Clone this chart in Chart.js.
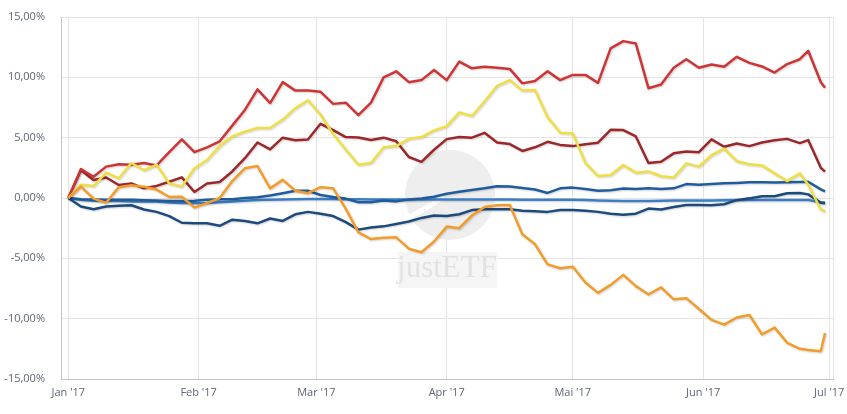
<!doctype html>
<html lang="de">
<head>
<meta charset="utf-8">
<title>Wertentwicklung 2017</title>
<script src="https://cdn.jsdelivr.net/npm/chart.js@4.4.0/dist/chart.umd.min.js"></script>
<style>
  html, body { margin: 0; padding: 0; background: #fff; }
  #wrap { width: 847px; height: 414px; position: relative; }
</style>
</head>
<body>
<div id="wrap"><canvas id="perfChart"></canvas></div>
<script>
// days since 1 Jan 2017 for each sample
const days = [0, 3, 6, 9, 12, 15, 18, 21, 24, 27, 30, 33, 36, 39, 42, 45, 48, 51, 54, 57,
  60, 63, 66, 69, 72, 75, 78, 81, 84, 87, 90, 93, 96, 99, 102, 105, 108, 111, 114, 117,
  120, 123, 126, 129, 132, 135, 138, 141, 144, 147, 150, 153, 156, 159, 162, 165, 168, 171, 174, 176,
  179, 180];

// performance in %
const red = [0, 2.4, 1.76, 2.6, 2.79, 2.75, 2.9, 2.7, 3.8, 4.85, 3.8, 4.2, 4.7, 6.0, 7.3, 9.0, 7.86, 9.6, 8.9, 8.9,
  8.8, 7.8, 7.9, 6.87, 7.9, 10.0, 10.5, 9.6, 9.77, 10.6, 9.77, 11.3, 10.75, 10.87, 10.8, 10.7, 9.5, 9.7, 10.5, 9.77,
  10.2, 10.2, 9.54, 12.4, 13.0, 12.8, 9.1, 9.4, 10.8, 11.5, 10.8, 11.07, 10.87, 11.7, 11.2, 10.9, 10.4, 11.1, 11.5, 12.2,
  9.6, 9.13];
const darkRed = [0, 2.3, 1.5, 1.7, 1.08, 1.2, 0.8, 1.0, 1.35, 1.71, 0.5, 1.2, 1.33, 2.2, 3.3, 4.6, 4.03, 5.0, 4.78, 4.85,
  6.15, 5.63, 5.05, 5.02, 4.8, 5.0, 4.7, 3.4, 3.0, 4.0, 4.88, 5.05, 5.0, 5.4, 4.6, 4.47, 3.9, 4.2, 4.66, 4.4,
  4.3, 4.45, 4.58, 5.65, 5.63, 5.1, 2.9, 3.0, 3.7, 3.85, 3.8, 4.86, 4.25, 4.52, 4.3, 4.6, 4.78, 4.9, 4.55, 4.8,
  2.5, 2.18];
const yellow = [0, 1.1, 0.99, 2.1, 1.63, 2.9, 2.3, 2.75, 1.2, 0.94, 2.46, 3.15, 4.3, 5.1, 5.5, 5.8, 5.8, 6.5, 7.45, 8.1,
  6.9, 5.3, 4.0, 2.75, 2.9, 4.2, 4.3, 4.9, 5.05, 5.6, 5.95, 7.1, 6.8, 8.0, 9.3, 9.77, 8.9, 8.95, 6.7, 5.4,
  5.35, 2.9, 1.82, 1.9, 2.73, 2.1, 2.2, 1.8, 1.7, 2.87, 2.6, 3.56, 4.1, 3.05, 2.8, 2.7, 2.04, 1.4, 2.04, 1.1,
  -0.95, -1.13];
const orange = [0, 0.95, -0.05, -0.4, 0.9, 1.05, 0.94, 0.7, 0.08, 0.1, -0.8, -0.42, 0.0, 1.4, 2.46, 2.65, 0.8, 1.5, 0.6, 0.4,
  0.9, 0.8, -0.9, -2.85, -3.4, -3.3, -3.26, -4.2, -4.5, -3.6, -2.37, -2.5, -1.45, -0.75, -0.6, -0.58, -3.0, -3.83, -5.5, -5.82,
  -5.7, -7.0, -7.86, -7.2, -6.37, -7.3, -8.0, -7.4, -8.4, -8.3, -9.2, -10.1, -10.5, -9.9, -9.7, -11.3, -10.74, -12.0, -12.5, -12.6,
  -12.7, -11.2];
const navy = [0, -0.7, -0.94, -0.7, -0.65, -0.6, -0.95, -1.15, -1.5, -2.05, -2.1, -2.1, -2.3, -1.8, -1.9, -2.1, -1.7, -1.9, -1.35, -1.15,
  -1.3, -1.5, -2.0, -2.62, -2.45, -2.35, -2.15, -1.95, -1.65, -1.45, -1.5, -1.35, -1.0, -0.94, -0.94, -0.94, -1.05, -1.1, -1.15, -1.0,
  -1.0, -1.05, -1.15, -1.3, -1.38, -1.3, -0.88, -0.95, -0.75, -0.58, -0.58, -0.6, -0.52, -0.18, -0.03, 0.15, 0.15, 0.4, 0.42, 0.3,
  -0.39, -0.44];
const blue = [0, -0.1, -0.12, -0.15, -0.15, -0.15, -0.18, -0.2, -0.25, -0.25, -0.22, -0.15, -0.1, -0.1, 0.0, 0.06, 0.2, 0.4, 0.6, 0.6,
  0.25, 0.08, -0.05, -0.35, -0.36, -0.2, -0.28, -0.12, -0.05, 0.1, 0.35, 0.52, 0.66, 0.8, 0.98, 0.96, 0.82, 0.7, 0.42, 0.8,
  0.86, 0.75, 0.6, 0.65, 0.78, 0.75, 0.8, 0.75, 0.8, 1.15, 1.1, 1.16, 1.22, 1.25, 1.3, 1.3, 1.28, 1.3, 1.33, 1.35,
  0.72, 0.55];
const lightBlue = [0, -0.15, -0.22, -0.25, -0.25, -0.28, -0.28, -0.3, -0.38, -0.42, -0.44, -0.42, -0.35, -0.28, -0.22, -0.17, -0.15, -0.12, -0.1, -0.08,
  -0.08, -0.08, -0.1, -0.1, -0.12, -0.12, -0.12, -0.12, -0.12, -0.12, -0.12, -0.12, -0.12, -0.12, -0.12, -0.12, -0.14, -0.15, -0.15, -0.15,
  -0.15, -0.17, -0.2, -0.22, -0.25, -0.25, -0.25, -0.22, -0.2, -0.2, -0.2, -0.2, -0.18, -0.17, -0.17, -0.17, -0.17, -0.17, -0.17, -0.17,
  -0.36, -0.4];

// x axis: first day of each month
const monthDays = [0, 31, 59, 90, 120, 151, 181];
const monthLabels = ["Jan '17", "Feb '17", "Mar '17", "Apr '17", "Mai '17", "Jun '17", "Jul '17"];

function pts(values) {
  return values.map((v, i) => ({ x: days[i], y: v }));
}

function line(values, color) {
  return {
    data: pts(values),
    borderColor: color,
    borderWidth: 2.5,
    borderJoinStyle: 'round',
    pointRadius: 0,
    tension: 0,
    fill: false
  };
}

// faint logo behind the lines
const watermark = {
  id: 'watermark',
  beforeDatasetsDraw(chart) {
    const { ctx, chartArea: a } = chart;
    const cx = (a.left + a.right) / 2 + 3;
    const cy = (a.top + a.bottom) / 2 - 3;
    ctx.save();
    ctx.fillStyle = '#eeeeee';
    ctx.beginPath();
    ctx.arc(cx, cy, 45, 0, Math.PI * 2);
    ctx.fill();
    ctx.strokeStyle = '#ffffff';
    ctx.lineWidth = 5;
    ctx.lineCap = 'round';
    ctx.beginPath();
    ctx.moveTo(cx - 50, cy + 27);
    ctx.quadraticCurveTo(cx - 20, cy + 12, cx - 8, cy + 2);
    ctx.stroke();
    ctx.fillStyle = '#f5f5f5';
    ctx.fillRect(cx - 52, cy + 57, 99, 36);
    ctx.fillStyle = '#e2e2e2';
    ctx.font = '31px "Liberation Serif", serif';
    ctx.textAlign = 'center';
    ctx.textBaseline = 'middle';
    ctx.fillText('justETF', cx - 3, cy + 74);
    ctx.restore();
  }
};

// soft shadow under each series
const lineShadow = {
  id: 'lineShadow',
  beforeDatasetDraw(chart) {
    const c = chart.ctx;
    c.save();
    c.shadowColor = 'rgba(0,0,0,0.18)';
    c.shadowBlur = 2;
    c.shadowOffsetX = 1;
    c.shadowOffsetY = 1;
  },
  afterDatasetDraw(chart) {
    chart.ctx.restore();
  }
};

Chart.defaults.font.family = "'Open Sans', sans-serif";
Chart.defaults.font.size = 11;
Chart.defaults.color = '#5e6673';

new Chart(document.getElementById('perfChart'), {
  type: 'line',
  data: {
    datasets: [
      line(orange, '#f39c2b'),
      line(yellow, '#efdf45'),
      line(red, '#cf3434'),
      line(darkRed, '#9c2729'),
      line(navy, '#1c4a7c'),
      line(blue, '#1f5c9e'),
      line(lightBlue, '#3c7ec4')
    ]
  },
  options: {
    responsive: true,
    maintainAspectRatio: false,
    animation: false,
    layout: { padding: { top: 17, right: 14, bottom: 0, left: 0 } },
    plugins: { legend: { display: false }, tooltip: { enabled: false } },
    scales: {
      x: {
        type: 'linear',
        min: -1.74,
        max: 181.9,
        afterBuildTicks(scale) {
          scale.ticks = monthDays.map(v => ({ value: v })).concat([{ value: 181.9 }]);
        },
        afterFit(scale) { scale.height = 35; },
        grid: { color: '#e4e4e4', drawTicks: false },
        border: { color: '#c4c4c4' },
        ticks: {
          autoSkip: false,
          maxRotation: 0,
          padding: 7,
          callback: (v, i) => monthLabels[i] || ''
        }
      },
      y: {
        min: -15,
        max: 15,
        afterFit(scale) {
          scale.width = 61;
          scale.paddingTop = 0;
          scale.paddingBottom = 0;
        },
        grid: { color: '#e4e4e4', drawTicks: false },
        border: { color: '#c4c4c4' },
        ticks: {
          stepSize: 5,
          padding: 16,
          callback: v => v.toFixed(2).replace('.', ',') + '%'
        }
      }
    }
  },
  plugins: [watermark, lineShadow]
});
</script>
</body>
</html>
